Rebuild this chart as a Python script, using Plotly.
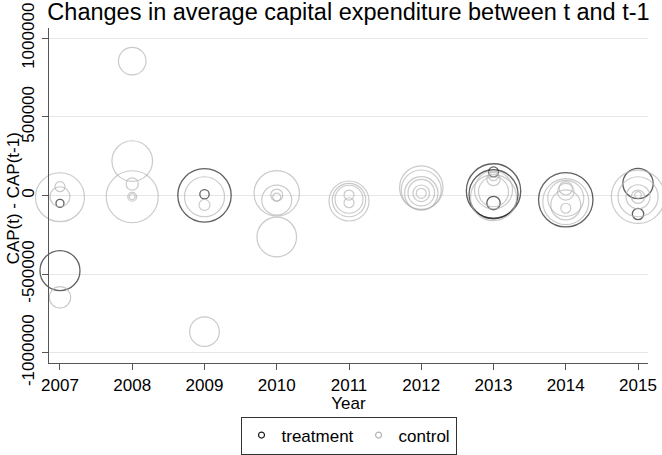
import plotly.graph_objects as go

# ---- data ----
treat_year = [2007, 2007, 2009, 2009, 2013, 2013, 2013, 2013, 2014, 2015, 2015]
treat_cap = [-478000, -50000, 1000, 8000, 29000, 8000, 150000, -48000, -27000, 76000, -118000]
treat_weight = [400, 16, 713, 22, 740, 600, 25, 45, 740, 230, 32]

ctrl_year = [2007, 2007, 2007, 2007,
             2008, 2008, 2008, 2008, 2008, 2008,
             2009, 2009, 2009,
             2010, 2010, 2010, 2010, 2010,
             2011, 2011, 2011, 2011, 2011,
             2012, 2012, 2012, 2012, 2012, 2012,
             2013, 2013, 2013, 2013, 2013,
             2014, 2014, 2014, 2014, 2014, 2014,
             2015, 2015, 2015, 2015, 2015]
ctrl_cap = [-11000, -8000, 56000, -648000,
            855000, 219000, 73000, -8000, -8000, -8000,
            -8000, -60000, -866000,
            14000, -29000, 3000, -10000, -264000,
            -35000, -29000, -24000, 3000, -46000,
            50000, 35000, 14000, 18000, 14000, 14000,
            35000, 24000, -14000, 126000, 105000,
            -39000, -18000, -60000, 46000, 24000, -81000,
            -8000, -8000, -8000, -8000, 3000]
ctrl_weight = [600, 100, 25, 114,
               190, 412, 38, 20, 9, 676,
               400, 30, 219,
               515, 225, 36, 16, 392,
               400, 279, 196, 25, 25,
               471, 400, 279, 177, 69, 25,
               361, 225, 529, 25, 45,
               529, 324, 225, 45, 69, 25,
               713, 400, 144, 45, 11]

years = [2007, 2008, 2009, 2010, 2011, 2012, 2013, 2014, 2015]
ytick_vals = [-1000000, -500000, 0, 500000, 1000000]
ytick_text = ["-1000000", "-500000", "0", "500000", "1000000"]

FONT = "Liberation Sans, Arial, Helvetica, sans-serif"
BLACK = "#1e1e1e"
GREY = "#b4b4b4"

fig = go.Figure()

fig.add_trace(go.Scatter(
    x=treat_year, y=treat_cap, mode="markers", name="treatment",
    showlegend=False, cliponaxis=False, hoverinfo="skip",
    marker=dict(symbol="circle-open", size=treat_weight, sizemode="area",
                sizeref=0.5, color=BLACK, line=dict(width=1.3, color=BLACK)),
))
fig.add_trace(go.Scatter(
    x=ctrl_year, y=ctrl_cap, mode="markers", name="control",
    showlegend=False, cliponaxis=False, hoverinfo="skip",
    marker=dict(symbol="circle-open", size=ctrl_weight, sizemode="area",
                sizeref=0.5, color=GREY, line=dict(width=1.2, color=GREY)),
))
# legend keys
fig.add_trace(go.Scatter(
    x=[None], y=[None], mode="markers", name="treatment",
    marker=dict(symbol="circle-open", size=6, color=BLACK, line=dict(width=1.2, color=BLACK)),
))
fig.add_trace(go.Scatter(
    x=[None], y=[None], mode="markers", name="control",
    marker=dict(symbol="circle-open", size=6, color=GREY, line=dict(width=1.2, color=GREY)),
))

PLOT_W = 662 - 49 - 14
PLOT_H = 455 - 28 - 92

fig.update_layout(
    width=662, height=455,
    margin=dict(l=49, r=14, t=28, b=92, autoexpand=False),
    paper_bgcolor="white", plot_bgcolor="white",
    font=dict(family=FONT, size=17, color="black"),
    title=dict(text="Changes in average capital expenditure between t and t-1",
               x=0.5, xref="paper", xanchor="center",
               y=1 - 11.5 / 455, yref="container", yanchor="middle",
               font=dict(family=FONT, size=23.5, color="black")),
    showlegend=True,
    legend=dict(orientation="h", x=0.5, xanchor="center", xref="paper",
                y=-(435.5 - 363) / PLOT_H, yanchor="middle", yref="paper",
                bordercolor="#333333", borderwidth=1, bgcolor="white",
                font=dict(family=FONT, size=17, color="black"),
                itemwidth=30, tracegroupgap=0),
    annotations=[dict(text="CAP(t) - CAP(t-1)", textangle=-90,
                      xref="paper", yref="paper", x=-(49 - 13.5) / PLOT_W, y=0.49,
                      xanchor="center", yanchor="middle", showarrow=False,
                      font=dict(family=FONT, size=17, color="black"))],
)

fig.update_xaxes(
    range=[2006.848, 2015.138], tickvals=years, ticktext=[str(y) for y in years],
    showgrid=False, zeroline=False, automargin=False,
    showline=True, linecolor="#555555", linewidth=1.2,
    ticks="outside", ticklen=6, tickcolor="#555555", tickwidth=1,
    tickfont=dict(family=FONT, size=17, color="black"),
    title=dict(text="Year", standoff=0, font=dict(family=FONT, size=17, color="black")),
)
fig.update_yaxes(
    range=[-1065500, 1065500], tickvals=ytick_vals, ticktext=ytick_text,
    tickangle=-90, automargin=False, ticklabelstandoff=1,
    showgrid=True, gridcolor="#e6e6e6", gridwidth=1.2, zeroline=False,
    showline=True, linecolor="#555555", linewidth=1.2,
    ticks="outside", ticklen=6, tickcolor="#555555", tickwidth=1,
    tickfont=dict(family=FONT, size=17, color="black"),
)

fig.write_html("out.html", config={"displayModeBar": False},
               post_script="document.body.style.margin='0';")
